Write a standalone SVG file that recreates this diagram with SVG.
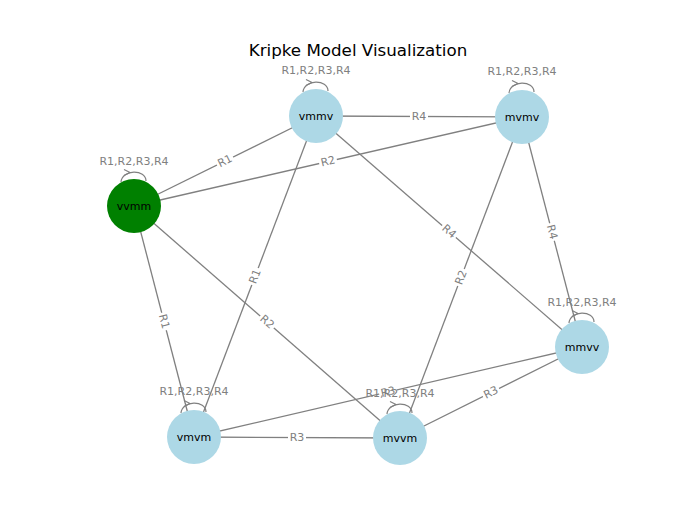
<svg xmlns="http://www.w3.org/2000/svg" width="699" height="532" viewBox="0 0 699 532">
<defs>
<style>
.e{stroke:#808080;stroke-width:1.3;fill:none}
.lp{stroke:#808080;stroke-width:1.2;fill:none}
.lb{fill:#fff}
.el{font-family:"DejaVu Sans",sans-serif;font-size:11px;fill:#808080;text-anchor:middle;dominant-baseline:central}
.ll{font-family:"DejaVu Sans",sans-serif;font-size:11px;fill:#808080;text-anchor:middle}
.nl{font-family:"DejaVu Sans",sans-serif;font-size:11px;fill:#000;text-anchor:middle;dominant-baseline:central}
.n{fill:#ADD8E6}
.g{fill:#008000}
</style>
<g id="loop">
<path class="lp" d="M-13,-24 C-12,-37 12,-37 12,-25"/>
<polyline class="lp" points="-10,-36.5 -4,-33.5 -10,-30.5"/>
</g>
</defs>
<rect width="699" height="532" fill="#fff"/>
<text x="358" y="56" font-family="DejaVu Sans,sans-serif" font-size="16.7px" text-anchor="middle" fill="#000">Kripke Model Visualization</text>
<g id="connectors">
<line class="e" x1="316" y1="116" x2="522" y2="117"/>
<line class="e" x1="316" y1="116" x2="134" y2="206"/>
<line class="e" x1="134" y1="206" x2="522" y2="117"/>
<line class="e" x1="316" y1="116" x2="194" y2="437"/>
<line class="e" x1="316" y1="116" x2="582" y2="347"/>
<line class="e" x1="522" y1="117" x2="400" y2="438"/>
<line class="e" x1="522" y1="117" x2="582" y2="347"/>
<line class="e" x1="134" y1="206" x2="194" y2="437"/>
<line class="e" x1="134" y1="206" x2="400" y2="438"/>
<line class="e" x1="194" y1="437" x2="400" y2="438"/>
<line class="e" x1="194" y1="437" x2="582" y2="347"/>
<line class="e" x1="400" y1="438" x2="582" y2="347"/>
<use href="#loop" x="316" y="116"/>
<use href="#loop" x="522" y="117"/>
<use href="#loop" x="134" y="206"/>
<use href="#loop" x="582" y="347"/>
<use href="#loop" x="194" y="437"/>
<use href="#loop" x="400" y="438"/>
<g transform="translate(419,116.5)"><rect class="lb" x="-9" y="-7" width="18" height="14" rx="2"/><text class="el">R4</text></g>
<g transform="translate(225,161) rotate(-26.3)"><rect class="lb" x="-9" y="-7" width="18" height="14" rx="2"/><text class="el">R1</text></g>
<g transform="translate(328,161.5) rotate(-12.9)"><rect class="lb" x="-9" y="-7" width="18" height="14" rx="2"/><text class="el">R2</text></g>
<g transform="translate(255,276.5) rotate(-69.2)"><rect class="lb" x="-9" y="-7" width="18" height="14" rx="2"/><text class="el">R1</text></g>
<g transform="translate(449,231.5) rotate(41)"><rect class="lb" x="-9" y="-7" width="18" height="14" rx="2"/><text class="el">R4</text></g>
<g transform="translate(461,277.5) rotate(-69.2)"><rect class="lb" x="-9" y="-7" width="18" height="14" rx="2"/><text class="el">R2</text></g>
<g transform="translate(552,232) rotate(75.4)"><rect class="lb" x="-9" y="-7" width="18" height="14" rx="2"/><text class="el">R4</text></g>
<g transform="translate(164,321.5) rotate(75.4)"><rect class="lb" x="-9" y="-7" width="18" height="14" rx="2"/><text class="el">R1</text></g>
<g transform="translate(267,322) rotate(41.1)"><rect class="lb" x="-9" y="-7" width="18" height="14" rx="2"/><text class="el">R2</text></g>
<g transform="translate(297,437.5)"><rect class="lb" x="-9" y="-7" width="18" height="14" rx="2"/><text class="el">R3</text></g>
<g transform="translate(388,392) rotate(-13)"><rect class="lb" x="-9" y="-7" width="18" height="14" rx="2"/><text class="el">R3</text></g>
<g transform="translate(491,392.5) rotate(-26.6)"><rect class="lb" x="-9" y="-7" width="18" height="14" rx="2"/><text class="el">R3</text></g>
</g>
<g id="vmmv"><circle class="n" cx="316" cy="116" r="27"/><text class="nl" x="316" y="116">vmmv</text><text class="ll" x="316" y="74">R1,R2,R3,R4</text></g>
<g id="mvmv"><circle class="n" cx="522" cy="117" r="27"/><text class="nl" x="522" y="117">mvmv</text><text class="ll" x="522" y="75">R1,R2,R3,R4</text></g>
<g id="vvmm"><circle class="g" cx="134" cy="206" r="27"/><text class="nl" x="134" y="206">vvmm</text><text class="ll" x="134" y="165">R1,R2,R3,R4</text></g>
<g id="mmvv"><circle class="n" cx="582" cy="347" r="27"/><text class="nl" x="582" y="347">mmvv</text><text class="ll" x="582" y="306">R1,R2,R3,R4</text></g>
<g id="vmvm"><circle class="n" cx="194" cy="437" r="27"/><text class="nl" x="194" y="437">vmvm</text><text class="ll" x="194" y="395">R1,R2,R3,R4</text></g>
<g id="mvvm"><circle class="n" cx="400" cy="438" r="27"/><text class="nl" x="400" y="438">mvvm</text><text class="ll" x="400" y="397">R1,R2,R3,R4</text></g>
</svg>
